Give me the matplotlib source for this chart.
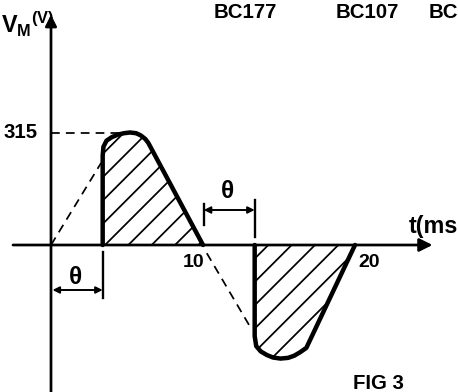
import matplotlib
matplotlib.use('Agg')

import matplotlib.pyplot as plt

#=====Config=====
OUTPUT_FILE = 'out.png'
DPI = 140
#================

# waveform data, t in ms, V in volts
pos_t = [3.4, 3.4, 3.45, 3.65, 4.0, 4.4, 4.8, 5.2, 5.6, 5.9, 6.2, 6.4, 10.0]
pos_v = [0, 250, 275, 292, 302, 309, 313, 315, 313, 307, 297, 286, 0]

neg_t = [13.4, 13.4, 13.5, 13.8, 14.2, 14.6, 15.1, 15.6, 16.0, 16.4, 16.8, 20.0]
neg_v = [0, -255, -283, -298, -308, -315, -318, -316, -310, -300, -288, 0]

# ideal (dashed) parts of the wave
rise_t = [0, 3.3]
rise_v = [0, 230]
fall_t = [10.25, 13.1]
fall_v = [-23, -229]

v_peak = 315
theta = 3.4
t_ticks = [10, 20]
top_labels = ['BC177', 'BC107', 'BC']
top_label_t = [12.8, 20.8, 24.85]

plt.rcParams['hatch.linewidth'] = 0.9
plt.rcParams['font.family'] = ['Liberation Sans', 'DejaVu Sans']
plt.rcParams['font.weight'] = 'bold'
plt.rcParams['mathtext.fontset'] = 'custom'
plt.rcParams['mathtext.bf'] = 'Liberation Sans:bold'

fig = plt.figure(figsize=(458 / DPI, 392 / DPI), dpi=DPI)
ax = fig.add_axes([0, 0, 1, 1])
ax.set_xlim(-51 / 15.2, (458 - 51) / 15.2)
ax.set_ylim(-147 * 2.8, 245 * 2.8)
ax.axis('off')

# axes with arrows
ax.annotate('', xy=(25.1, 0), xytext=(-2.5, 0),
            arrowprops=dict(arrowstyle='-|>', lw=1.4, color='black',
                            mutation_scale=14, shrinkA=0, shrinkB=0))
ax.annotate('', xy=(0, 645), xytext=(0, -430),
            arrowprops=dict(arrowstyle='-|>', lw=1.4, color='black',
                            mutation_scale=12, shrinkA=0, shrinkB=0))

# hatched areas + thick outline
ax.fill(pos_t, pos_v, facecolor='none', edgecolor='black', lw=0, hatch='//')
ax.fill(neg_t, neg_v, facecolor='none', edgecolor='black', lw=0, hatch='//')
ax.plot(pos_t, pos_v, color='black', lw=2.3, solid_capstyle='round', solid_joinstyle='round')
ax.plot(neg_t, neg_v, color='black', lw=2.3, solid_capstyle='round', solid_joinstyle='round')

# dashed guide lines
dash = dict(color='black', lw=0.9, linestyle=(0, (5, 3.5)))
ax.plot(rise_t, rise_v, **dash)
ax.plot(fall_t, fall_v, **dash)
ax.plot([0, 4.7], [v_peak, v_peak], **dash)

# theta dimension marks
ax.plot([theta, theta], [-20, -148], color='black', lw=1.2)
ax.annotate('', xy=(0.1, -126), xytext=(theta, -126),
            arrowprops=dict(arrowstyle='<|-|>', lw=1.0, color='black',
                            mutation_scale=7, shrinkA=0, shrinkB=0))
ax.text(1.6, -90, 'θ', fontsize=12.5, ha='center', va='center')

ax.plot([10.05, 10.05], [115, 56], color='black', lw=1.2)
ax.plot([13.4, 13.4], [126, 22], color='black', lw=1.2)
ax.annotate('', xy=(10.05, 98), xytext=(13.4, 98),
            arrowprops=dict(arrowstyle='<|-|>', lw=1.0, color='black',
                            mutation_scale=7, shrinkA=0, shrinkB=0))
ax.text(11.6, 150, 'θ', fontsize=12.5, ha='center', va='center')

# tick labels
ax.text(-0.85, v_peak, str(v_peak), fontsize=10.5, ha='right', va='center')
for t in t_ticks:
    ax.text(t + (-0.65 if t == 10 else 0.9), -48, str(t), fontsize=10, ha='center', va='center')

# axis labels
ax.text(23.55, 52, 't(ms', fontsize=12, ha='left', va='center')
ax.text(-3.3, 592, r'$\mathbf{V_M{}^{(V)}}$', fontsize=12, ha='left', va='baseline')

# part labels on top and figure caption
for name, t in zip(top_labels, top_label_t):
    ax.text(t, 652, name, fontsize=10.5, ha='center' if name != 'BC' else 'left', va='center')
ax.text(19.9, -362, 'FIG 3', fontsize=10.5, ha='left', va='top')

plt.savefig(OUTPUT_FILE, dpi=DPI, facecolor='white')
